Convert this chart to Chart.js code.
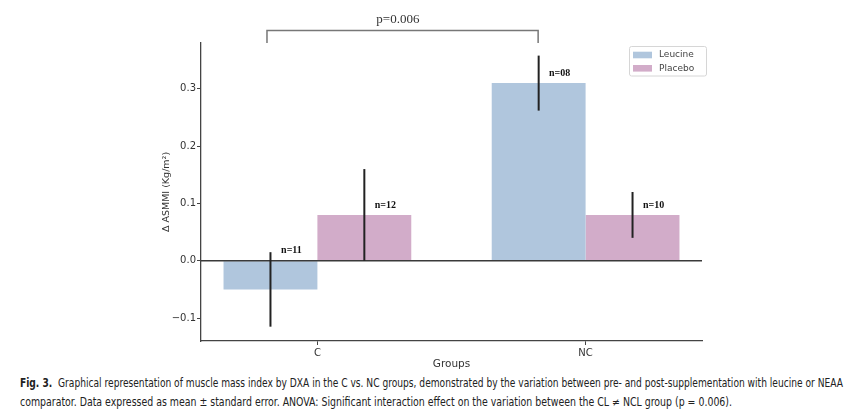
<!DOCTYPE html>
<html><head><meta charset="utf-8">
<script src="https://cdn.jsdelivr.net/npm/chart.js@4.4.1/dist/chart.umd.min.js"></script>
<style>
html,body{margin:0;padding:0;background:#fff;width:850px;height:412px;overflow:hidden}
#wrap{position:absolute;left:0;top:0;width:850px;height:372px}
.cap{position:absolute;left:20px;white-space:nowrap;font-family:"Liberation Sans Narrow","DejaVu Sans Condensed","Liberation Sans",sans-serif;font-size:11.5px;line-height:13px;color:#222;transform-origin:0 50%}
</style></head><body>
<div id="wrap"><canvas id="c" width="850" height="372"></canvas></div>
<div class="cap" id="l1" style="top:377px"><b>Fig. 3.</b>&nbsp; Graphical representation of muscle mass index by DXA in the C vs. NC groups, demonstrated by the variation between pre- and post-supplementation with leucine or NEAA</div>
<div class="cap" id="l2" style="top:396px">comparator. Data expressed as mean ± standard error. ANOVA: Significant interaction effect on the variation between the CL ≠ NCL group (p = 0.006).</div>
<script>
const categories = ['C', 'NC'];
const leucine = [-0.05, 0.31];
const placebo = [0.08, 0.08];
const leucineErr = [0.065, 0.048];
const placeboErr = [0.08, 0.04];
const leucineN = ['n=11', 'n=08'];
const placeboN = ['n=12', 'n=10'];
const yTicks = [-0.1, 0, 0.1, 0.2, 0.3];
const pLabel = 'p=0.006';

function fmt(v){ return (Math.round(v*10)/10).toFixed(1).replace('-', '\u2212'); }

const annot = {
  id: 'annot',
  afterDatasetsDraw(chart) {
    const {ctx, chartArea: a, scales: {x, y}} = chart;
    ctx.save();
    const line = (x1, y1, x2, y2) => { ctx.beginPath(); ctx.moveTo(x1, y1); ctx.lineTo(x2, y2); ctx.stroke(); };
    // zero line
    const y0 = y.getPixelForValue(0);
    ctx.strokeStyle = '#3a3a3a'; ctx.lineWidth = 1.5;
    line(a.left, y0, a.right, y0);
    // error bars and n labels
    chart.data.datasets.forEach((ds, di) => {
      const meta = chart.getDatasetMeta(di);
      meta.data.forEach((el, i) => {
        const v = ds.data[i].y, e = ds.err[i];
        ctx.strokeStyle = '#222'; ctx.lineWidth = 2;
        line(el.x, y.getPixelForValue(v + e), el.x, y.getPixelForValue(v - e));
        ctx.font = 'bold 10px "Liberation Serif", serif';
        ctx.textAlign = 'center'; ctx.textBaseline = 'middle'; ctx.fillStyle = '#111';
        ctx.fillText(ds.nLabels[i], el.x + 21, y.getPixelForValue(Math.max(v, 0)) - 10);
      });
    });
    // significance bracket
    const bx1 = x.getPixelForValue(-0.188), bx2 = x.getPixelForValue(0.823);
    const by = y.getPixelForValue(0.402), bb = y.getPixelForValue(0.38);
    ctx.strokeStyle = '#777'; ctx.lineWidth = 1.5;
    ctx.beginPath(); ctx.moveTo(bx1, bb); ctx.lineTo(bx1, by); ctx.lineTo(bx2, by); ctx.lineTo(bx2, bb); ctx.stroke();
    ctx.font = '13px "Liberation Serif", serif'; ctx.fillStyle = '#333';
    ctx.textAlign = 'center'; ctx.textBaseline = 'middle';
    ctx.fillText(pLabel, x.getPixelForValue(0.30), 19.5);
    // legend
    ctx.fillStyle = '#fff'; ctx.strokeStyle = '#d6d6d6'; ctx.lineWidth = 1;
    ctx.beginPath(); ctx.roundRect(629.5, 46.5, 77, 29.5, 2); ctx.fill(); ctx.stroke();
    chart.data.datasets.forEach((ds, di) => {
      const cy = 55 + di * 13.3;
      ctx.fillStyle = ds.backgroundColor;
      ctx.fillRect(633, cy - 3.3, 19, 6.6);
      ctx.fillStyle = '#444'; ctx.font = '9px "DejaVu Sans", sans-serif';
      ctx.textAlign = 'left'; ctx.textBaseline = 'middle';
      ctx.fillText(ds.label, 659, cy);
    });
    ctx.restore();
  }
};

new Chart(document.getElementById('c'), {
  type: 'bar',
  data: {
    datasets: [
      {label: 'Leucine', data: categories.map((c, i) => ({x: i, y: leucine[i]})), backgroundColor: '#B0C6DD', err: leucineErr, nLabels: leucineN},
      {label: 'Placebo', data: categories.map((c, i) => ({x: i, y: placebo[i]})), backgroundColor: '#D2ACC9', err: placeboErr, nLabels: placeboN}
    ]
  },
  options: {
    responsive: false, animation: false, devicePixelRatio: 1,
    datasets: {bar: {categoryPercentage: 0.7, barPercentage: 1.0}},
    layout: {padding: {left: 161, right: 148, top: 43, bottom: 0}},
    plugins: {legend: {display: false}, tooltip: {enabled: false}},
    scales: {
      x: {
        type: 'linear', min: -0.434, max: 1.434, offset: false,
        afterBuildTicks: s => { s.ticks = categories.map((c, i) => ({value: i})); },
        afterFit: s => { s.height = 31; },
        ticks: {callback: v => categories[v], font: {family: 'DejaVu Sans', size: 10}, color: '#333', padding: 2, maxRotation: 0, autoSkip: false},
        grid: {offset: false, drawOnChartArea: false, drawTicks: true, tickLength: 4, tickColor: '#444', tickWidth: 1},
        border: {display: true, color: '#444', width: 1.3},
        title: {display: true, text: 'Groups', font: {family: 'DejaVu Sans', size: 10.5}, color: '#333', padding: {top: 0, bottom: 1.8}}
      },
      y: {
        min: -0.14, max: 0.38,
        afterBuildTicks: s => { s.ticks = yTicks.map(v => ({value: v})); },
        afterFit: s => { s.width = 40; },
        ticks: {callback: v => fmt(v), font: {family: 'DejaVu Sans', size: 10}, color: '#333', padding: 1},
        grid: {offset: false, drawOnChartArea: false, drawTicks: true, tickLength: 4, tickColor: '#444', tickWidth: 1},
        border: {display: true, color: '#444', width: 1.3},
        title: {display: true, text: '\u0394 ASMMI (Kg/m\u00B2)', font: {family: 'DejaVu Sans', size: 9.5}, color: '#333', padding: {top: 0, bottom: 0}}
      }
    }
  },
  plugins: [annot]
});

function fitCaption(id, target) {
  const el = document.getElementById(id);
  const w = el.getBoundingClientRect().width;
  el.style.transform = 'scaleX(' + (target / w) + ')';
}
fitCaption('l1', 823);
fitCaption('l2', 712);
</script>
</body></html>
